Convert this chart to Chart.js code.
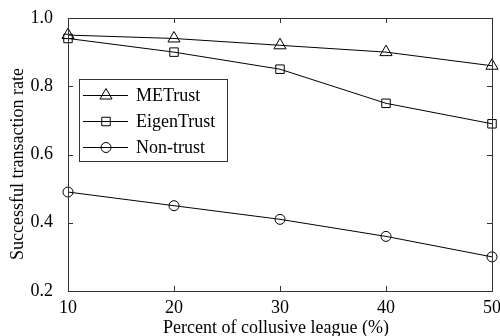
<!DOCTYPE html>
<html>
<head>
<meta charset="utf-8">
<script src="https://cdn.jsdelivr.net/npm/chart.js@4/dist/chart.umd.min.js"></script>
<style>
  html, body { margin: 0; padding: 0; background: #fff; }
  canvas { display: block; }
</style>
</head>
<body>
<canvas id="chart" width="500" height="336"></canvas>
<script>
// Percent of colluding peers in the network
const collusivePercent = [10, 20, 30, 40, 50];

// Successful transaction rate for each trust model
const meTrust    = [0.95, 0.94, 0.92, 0.90, 0.86];
const eigenTrust = [0.94, 0.90, 0.85, 0.75, 0.69];
const nonTrust   = [0.49, 0.45, 0.41, 0.36, 0.30];

const seriesNames = ['METrust', 'EigenTrust', 'Non-trust'];
const xTickValues = [10, 20, 30, 40, 50];
const yTickValues = [0.2, 0.4, 0.6, 0.8, 1.0];
const xTitle = 'Percent of collusive league (%)';
const yTitle = 'Successful transaction rate';

const FONT = '"Liberation Serif", "Times New Roman", serif';
const INK = '#000';
const FRAME = '#333';

Chart.defaults.color = INK;
Chart.defaults.font.family = FONT;

const toPoints = ys => collusivePercent.map((x, i) => ({ x, y: ys[i] }));

function series(label, ys, style, radius) {
  return {
    label,
    data: toPoints(ys),
    borderColor: INK,
    borderWidth: 1,
    pointStyle: style,
    pointRadius: radius,
    pointHoverRadius: radius,
    pointBorderColor: INK,
    pointBorderWidth: 1,
    pointBackgroundColor: 'rgba(0,0,0,0)',
    tension: 0,
    fill: false,
    clip: false
  };
}

// Box frame, inward tick marks on every side, axis titles and the boxed legend
const framePlugin = {
  id: 'frame',
  afterDatasetsDraw(chart) {
    const { ctx, chartArea: a, scales } = chart;
    const xs = scales.x, ys = scales.y;
    const TL = 5;
    ctx.save();
    ctx.strokeStyle = FRAME;
    ctx.lineWidth = 1;
    ctx.strokeRect(Math.round(a.left) + 0.5, Math.round(a.top) + 0.5,
                   Math.round(a.right - a.left), Math.round(a.bottom - a.top));
    ctx.beginPath();
    xTickValues.forEach(v => {
      const px = Math.round(xs.getPixelForValue(v)) + 0.5;
      ctx.moveTo(px, a.bottom); ctx.lineTo(px, a.bottom - TL);
      ctx.moveTo(px, a.top); ctx.lineTo(px, a.top + TL);
    });
    yTickValues.forEach(v => {
      const py = Math.round(ys.getPixelForValue(v)) + 0.5;
      ctx.moveTo(a.left, py); ctx.lineTo(a.left + TL, py);
      ctx.moveTo(a.right, py); ctx.lineTo(a.right - TL, py);
    });
    ctx.stroke();

    // axis titles
    ctx.fillStyle = INK;
    ctx.font = '18px ' + FONT;
    ctx.textAlign = 'center';
    ctx.textBaseline = 'middle';
    ctx.fillText(xTitle, (a.left + a.right) / 2 - 4, 328);
    ctx.save();
    ctx.translate(18, 164);
    ctx.rotate(-Math.PI / 2);
    ctx.fillText(yTitle, 0, 0);
    ctx.restore();

    // legend
    const bx = a.left + 11, by = a.top + 61, bw = 148, bh = 82;
    ctx.fillStyle = '#fff';
    ctx.fillRect(bx, by, bw, bh);
    ctx.strokeStyle = FRAME;
    ctx.strokeRect(Math.round(bx) + 0.5, Math.round(by) + 0.5, bw, bh);
    chart.data.datasets.forEach((ds, i) => {
      const ry = Math.round(by + 16 + i * 26) + 0.5;
      ctx.strokeStyle = ds.borderColor;
      ctx.lineWidth = ds.borderWidth;
      ctx.beginPath();
      ctx.moveTo(bx + 4, ry); ctx.lineTo(bx + 49, ry);
      ctx.stroke();
      ctx.fillStyle = 'rgba(0,0,0,0)';
      Chart.helpers.drawPoint(ctx, {
        pointStyle: ds.pointStyle, radius: ds.pointRadius,
        rotation: 0, borderWidth: ds.pointBorderWidth
      }, bx + 27, ry);
      ctx.fillStyle = INK;
      ctx.font = '18px ' + FONT;
      ctx.textAlign = 'left';
      ctx.textBaseline = 'middle';
      ctx.fillText(ds.label, bx + 57, ry + 1);
    });
    ctx.restore();
  }
};

new Chart(document.getElementById('chart'), {
  type: 'line',
  data: {
    datasets: [
      series(seriesNames[0], meTrust, 'triangle', 7),
      series(seriesNames[1], eigenTrust, 'rect', 6),
      series(seriesNames[2], nonTrust, 'circle', 5)
    ]
  },
  options: {
    responsive: false,
    animation: false,
    devicePixelRatio: 1,
    layout: { padding: { left: 0, right: 6, top: 18, bottom: 0 } },
    plugins: { legend: { display: false }, tooltip: { enabled: false } },
    scales: {
      x: {
        type: 'linear',
        min: 10, max: 50,
        afterBuildTicks: s => { s.ticks = xTickValues.map(v => ({ value: v })); },
        afterFit: s => { s.height = 45; s.paddingLeft = 0; s.paddingRight = 0; },
        grid: { display: false },
        border: { display: false },
        ticks: { font: { size: 18, family: FONT }, color: INK, padding: -2, maxRotation: 0 }
      },
      y: {
        min: 0.2, max: 1.0,
        afterBuildTicks: s => { s.ticks = yTickValues.map(v => ({ value: v })); },
        afterFit: s => { s.width = 68; },
        grid: { display: false },
        border: { display: false },
        ticks: {
          font: { size: 18, family: FONT }, color: INK, padding: 7,
          callback: v => Number(v).toFixed(1)
        }
      }
    }
  },
  plugins: [framePlugin]
});
</script>
</body>
</html>
